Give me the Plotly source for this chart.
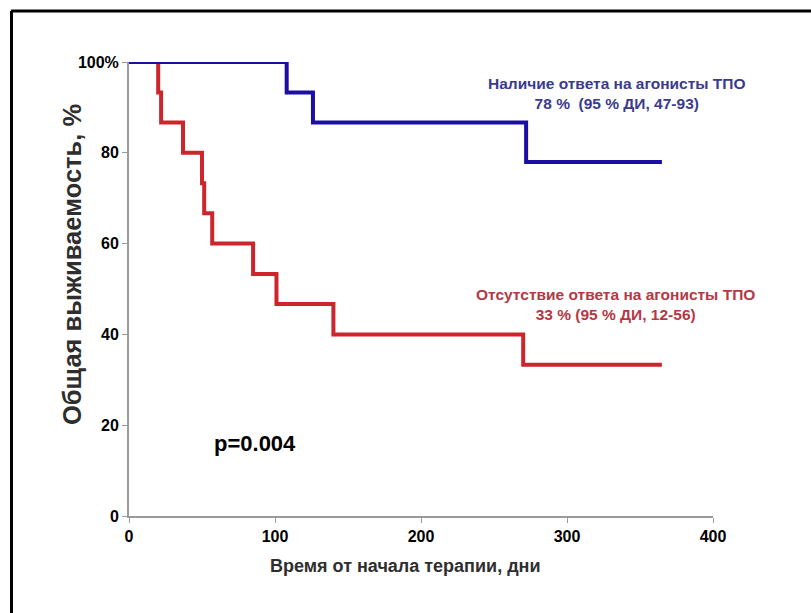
import plotly.graph_objects as go

# Kaplan-Meier step data (days, overall survival %)
resp_days = [0, 108, 126, 272, 365]
resp_surv = [100, 93.3, 86.7, 78.0, 78.0]

noresp_days = [0, 20, 22, 37, 50, 51.5, 57, 85, 101, 140, 270, 365]
noresp_surv = [100, 93.3, 86.7, 80, 73.3, 66.7, 60, 53.3, 46.7, 40, 33.3, 33.3]

y_tickvals = [0, 20, 40, 60, 80, 100]
y_ticktext = ["0", "20", "40", "60", "80", "100%"]
x_tickvals = [0, 100, 200, 300, 400]

resp_label = ["Наличие ответа на агонисты ТПО", "78 %  (95 % ДИ, 47-93)"]
noresp_label = ["Отсутствие ответа на агонисты ТПО", "33 % (95 % ДИ, 12-56)"]
p_text = "p=0.004"
x_title = "Время от начала терапии, дни"
y_title = "Общая выживаемость, %"

BLUE = "#1c0ea3"
RED = "#cd252c"
FONT = "Liberation Sans, Arial, sans-serif"

fig = go.Figure()
fig.add_trace(go.Scatter(x=noresp_days, y=noresp_surv, mode="lines",
                         line=dict(color=RED, width=4, shape="hv"),
                         showlegend=False, hoverinfo="skip"))
fig.add_trace(go.Scatter(x=resp_days, y=resp_surv, mode="lines",
                         line=dict(color=BLUE, width=4, shape="hv"),
                         showlegend=False, hoverinfo="skip"))

axis_common = dict(showgrid=False, zeroline=False,
                   showline=True, linecolor="#9a9a9a", linewidth=2,
                   ticks="outside", ticklen=5, tickcolor="#9a9a9a", tickwidth=1,
                   tickfont=dict(size=16, weight="bold", color="black"))

fig.update_layout(
    width=811, height=613,
    margin=dict(l=129, r=98, t=62, b=97),
    paper_bgcolor="white", plot_bgcolor="white",
    font=dict(family=FONT, color="black"),
    xaxis=dict(range=[0, 400], tickvals=x_tickvals, **axis_common),
    yaxis=dict(range=[0, 100], tickvals=y_tickvals, ticktext=y_ticktext, **axis_common),
)

# Axis titles
fig.add_annotation(x=(405 - 129) / 584, y=(516 - 566) / 454, xref="paper", yref="paper",
                   xanchor="center", yanchor="middle",
                   text=x_title, showarrow=False,
                   font=dict(size=18, weight="bold", color="#2e2e2e"))
fig.add_annotation(x=(72 - 129) / 584, y=(516 - 265) / 454, xref="paper", yref="paper",
                   xanchor="center", yanchor="middle",
                   text=y_title, showarrow=False, textangle=-90,
                   font=dict(size=25.5, weight="bold", color="#2e2e2e"))

# Group labels
fig.add_annotation(x=334, y=93.0, xref="x", yref="y",
                   text="<br>".join(resp_label), showarrow=False,
                   font=dict(size=15.5, color="#3a3a90", weight="bold"), align="center")
fig.add_annotation(x=333, y=46.5, xref="x", yref="y",
                   text="<br>".join(noresp_label), showarrow=False,
                   font=dict(size=15.5, color="#b53845", weight="bold"), align="center")
fig.add_annotation(x=86, y=15.9, xref="x", yref="y", text=p_text, showarrow=False,
                   font=dict(size=22, color="black", weight="bold"))

# Outer frame lines (top and left)
frame = dict(color="black", width=3)
fig.add_shape(type="line", xref="paper", yref="paper",
              x0=-118 / 584, x1=(811 - 129) / 584, y0=(516 - 11) / 454, y1=(516 - 11) / 454,
              line=frame)
fig.add_shape(type="line", xref="paper", yref="paper",
              x0=-117.5 / 584, x1=-117.5 / 584, y0=(516 - 11) / 454, y1=(516 - 613) / 454,
              line=frame)

fig.write_html("out.html")
